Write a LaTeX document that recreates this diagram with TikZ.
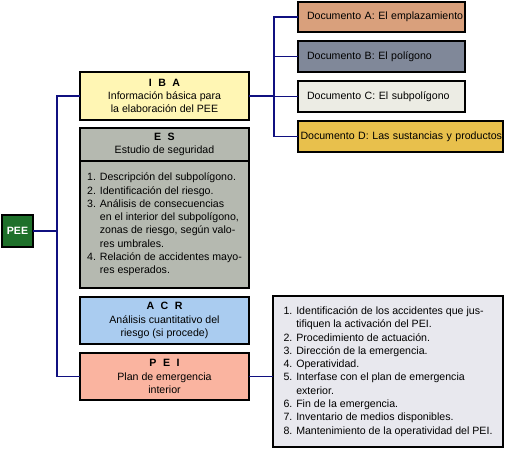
\documentclass[tikz,border=0pt]{standalone}
\usepackage{fontspec}
\setmainfont{Liberation Sans}
\definecolor{navy}{RGB}{16,16,128}
\definecolor{peeg}{RGB}{30,112,42}
\definecolor{ibay}{RGB}{255,246,180}
\definecolor{esg}{RGB}{181,185,176}
\definecolor{acrb}{RGB}{170,204,240}
\definecolor{peis}{RGB}{250,180,160}
\definecolor{doca}{RGB}{217,160,124}
\definecolor{docb}{RGB}{128,136,153}
\definecolor{docc}{RGB}{236,236,228}
\definecolor{docd}{RGB}{232,192,76}
\definecolor{listg}{RGB}{232,232,238}
\newcommand{\ttlsp}{\hspace{6.5pt}}
\tikzset{
  base/.style={draw=black, line width=1.8pt, font=\fontsize{10.6}{13.3}\selectfont, inner sep=0pt, outer sep=0pt},
  mainbox/.style={base, minimum width=169pt, align=center},
  docbox/.style={base, minimum height=30.5pt, align=left, anchor=west, inner xsep=0pt},
  conn/.style={draw=navy, line width=1.8pt}
}
\begin{document}
\begin{tikzpicture}[x=1pt,y=-1pt]
\useasboundingbox (0,0) rectangle (506,450);
% left column
\node[base, fill=peeg, text=white, minimum width=31pt, minimum height=32pt, font=\fontsize{10.6}{12}\selectfont\bfseries] (pee) at (17.5,231) {PEE};
\node[mainbox, fill=ibay, minimum height=48pt] (iba) at (164.5,96) {{\bfseries I\ttlsp B\ttlsp A}\\Información básica para\\la elaboración del PEE};
\node[mainbox, fill=esg, minimum height=33pt] (esh) at (164.5,144.5) {{\bfseries E\ttlsp S}\\Estudio de seguridad};
\node[mainbox, fill=esg, minimum height=127pt, align=left] (esb) at (164.5,224.5) {%
1. Descripción del subpolígono.\\
2. Identificación del riesgo.\\
3. Análisis de consecuencias\\
\phantom{3. }en el interior del subpolígono,\\
\phantom{3. }zonas de riesgo, según valo-\\
\phantom{3. }res umbrales.\\
4. Relación de accidentes mayo-\\
\phantom{4. }res esperados.};
\node[mainbox, fill=acrb, minimum height=47pt] (acr) at (164.5,320.5) {{\bfseries A\ttlsp C\ttlsp R}\\Análisis cuantitativo del\\riesgo (si procede)};
\node[mainbox, fill=peis, minimum height=47pt] (pei) at (164.5,376.5) {{\bfseries P\ttlsp E\ttlsp I}\\Plan de emergencia\\interior};
% documents
\node[docbox, fill=doca, text width=167pt] (da) at (298,17) {\hspace*{9pt}\mbox{Documento A: El emplazamiento}};
\node[docbox, fill=docb, text width=167pt] (db) at (298,56.5) {\hspace*{9pt}\mbox{Documento B: El polígono}};
\node[docbox, fill=docc, text width=167pt] (dc) at (298,96.5) {\hspace*{9pt}\mbox{Documento C: El subpolígono}};
\node[docbox, fill=docd, text width=205pt] (dd) at (298,136.5) {\hspace*{2.5pt}\mbox{Documento D: Las sustancias y productos}};
% PEI list
\node[base, fill=listg, minimum width=230pt, minimum height=151pt, align=left] (lst) at (388,371.5) {%
1. Identificación de los accidentes que jus-\\
\phantom{1. }tifiquen la activación del PEI.\\
2. Procedimiento de actuación.\\
3. Dirección de la emergencia.\\
4. Operatividad.\\
5. Interfase con el plan de emergencia\\
\phantom{5. }exterior.\\
6. Fin de la emergencia.\\
7. Inventario de medios disponibles.\\
8. Mantenimiento de la operatividad del PEI.};
% connectors
\coordinate (lb) at (57,0);
\coordinate (rb) at (274,0);
\draw[conn] (iba.west) -- (iba.west -| lb) -- (pei.west -| lb) -- (pei.west);
\draw[conn] (pee.east) -- (pee.east -| lb);
\draw[conn] (iba.east) -- (iba.east -| rb);
\draw[conn] (da.west) -- (da.west -| rb) -- (dd.west -| rb) -- (dd.west);
\draw[conn] (db.west) -- (db.west -| rb);
\draw[conn] (dc.west) -- (dc.west -| rb);
\draw[conn] (pei.east) -- (pei.east -| lst.west);
\end{tikzpicture}
\end{document}
